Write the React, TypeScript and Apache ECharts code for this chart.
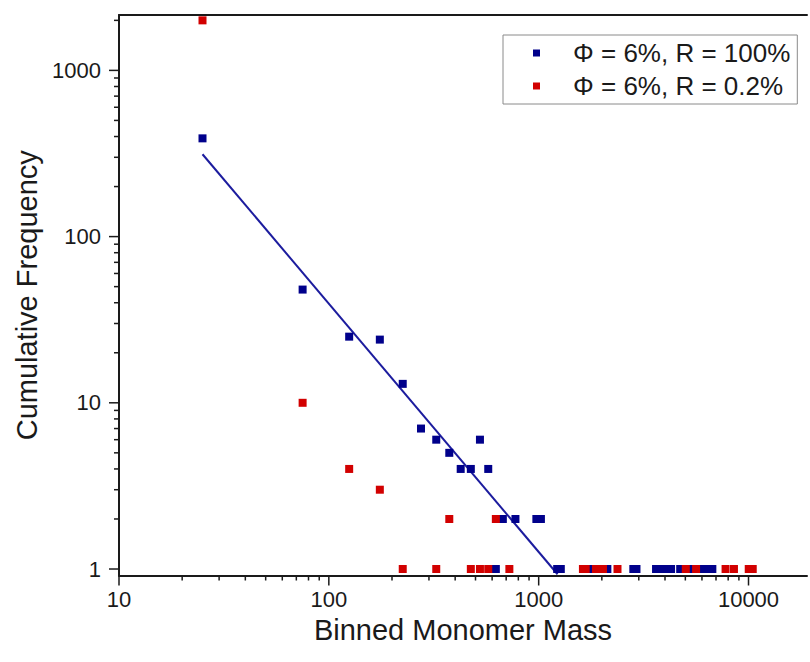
import React, { useEffect, useRef } from "react";
import * as echarts from "echarts";

// ---- data ----
const blueName = "Φ = 6%, R = 100%";
const redName = "Φ = 6%, R = 0.2%";

const blueMass = [25, 75, 125, 175, 225, 275, 325, 375, 425, 475, 525, 575, 625, 675, 775, 975, 1025, 1225, 1275, 1725, 2125, 2825, 2925, 3625, 3775, 3925, 4125, 4275, 4725, 5225, 6125, 6425, 6725];
const blueFreq = [390, 48, 25, 24, 13, 7, 6, 5, 4, 4, 6, 4, 1, 2, 2, 2, 2, 1, 1, 1, 1, 1, 1, 1, 1, 1, 1, 1, 1, 1, 1, 1, 1];

const redMass = [25, 75, 125, 175, 225, 325, 375, 475, 525, 575, 625, 725, 1625, 1675, 1875, 2025, 2375, 5025, 5625, 7775, 8525, 10025, 10475];
const redFreq = [2000, 10, 4, 3, 1, 1, 2, 1, 1, 1, 2, 1, 1, 1, 1, 1, 1, 1, 1, 1, 1, 1, 1];

// power-law fit line end points
const fitMass = [25, 1230];
const fitFreq = [313, 0.93];

// axis extents and tick values
const X_MIN = 10;
const X_MAX = 19000;
const Y_MIN = 0.914;
const Y_MAX = 2154;
const xMajorTicks = [10, 100, 1000, 10000];
const xMinorTicks = [20, 30, 40, 50, 60, 70, 80, 90, 200, 300, 400, 500, 600, 700, 800, 900, 2000, 3000, 4000, 5000, 6000, 7000, 8000, 9000];
const yMajorTicks = [1, 10, 100, 1000];
const yMinorTicks = [2, 3, 4, 5, 6, 7, 8, 9, 20, 30, 40, 50, 60, 70, 80, 90, 200, 300, 400, 500, 600, 700, 800, 900, 2000];

const FONT = "'Liberation Sans', Arial, sans-serif";
const INK = "#1a1a1a";
const BLUE = "#00008b";
const RED = "#d20000";

function pairs(xs: number[], ys: number[]) {
  return xs.map((x, i) => [x, ys[i]]);
}

function logLabel(v: number) {
  const l = Math.log10(v);
  return Math.abs(l - Math.round(l)) < 1e-6 ? String(Math.round(v)) : "";
}

function xTickSeries(values: number[], len: number) {
  return {
    type: "custom",
    silent: true,
    clip: false,
    z: 5,
    data: values.map((v) => [v, 1]),
    renderItem: (params: any, api: any) => {
      const cs = params.coordSys;
      const p = api.coord([api.value(0), 1]);
      const bottom = cs.y + cs.height;
      return {
        type: "line",
        shape: { x1: p[0], y1: bottom, x2: p[0], y2: bottom + len },
        style: { stroke: INK, lineWidth: 1.5 },
      };
    },
  };
}

function yTickSeries(values: number[], len: number) {
  return {
    type: "custom",
    silent: true,
    clip: false,
    z: 5,
    data: values.map((v) => [100, v]),
    renderItem: (params: any, api: any) => {
      const cs = params.coordSys;
      const p = api.coord([100, api.value(1)]);
      const left = cs.x;
      return {
        type: "line",
        shape: { x1: left, y1: p[1], x2: left - len, y2: p[1] },
        style: { stroke: INK, lineWidth: 1.5 },
      };
    },
  };
}

export default function App() {
  const ref = useRef<HTMLDivElement>(null);

  useEffect(() => {
    if (!ref.current) return;
    const chart = echarts.init(ref.current, undefined, { renderer: "svg" });
    chart.setOption({
      animation: false,
      backgroundColor: "#ffffff",
      textStyle: { fontFamily: FONT },
      grid: { left: 119, top: 15, right: 0, bottom: 86.5, containLabel: false },
      legend: {
        data: [blueName, redName],
        orient: "vertical",
        left: 503,
        top: 35,
        padding: [5, 7, 5, 30],
        itemGap: 7,
        itemWidth: 7,
        itemHeight: 7,
        icon: "rect",
        borderColor: "#8a8a8a",
        borderWidth: 1,
        backgroundColor: "#ffffff",
        textStyle: { fontSize: 26, color: INK, fontFamily: FONT, padding: [0, 0, 0, 28] },
      },
      xAxis: [
        {
          type: "log",
          min: X_MIN,
          max: X_MAX,
          position: "bottom",
          name: "Binned Monomer Mass",
          nameLocation: "middle",
          nameGap: 35,
          nameTextStyle: { fontSize: 29, color: INK, fontFamily: FONT },
          axisLine: { show: true, onZero: false, lineStyle: { color: INK, width: 2 } },
          axisTick: { show: false },
          splitLine: { show: false },
          axisLabel: { fontSize: 22, color: INK, margin: 13, fontFamily: FONT, formatter: logLabel },
        },
        {
          type: "log",
          min: X_MIN,
          max: X_MAX,
          position: "top",
          axisLine: { show: true, onZero: false, lineStyle: { color: INK, width: 2 } },
          axisTick: { show: false },
          axisLabel: { show: false },
          splitLine: { show: false },
        },
      ],
      yAxis: {
        type: "log",
        min: Y_MIN,
        max: Y_MAX,
        name: "Cumulative Frequency",
        nameLocation: "middle",
        nameGap: 72,
        nameTextStyle: { fontSize: 29, color: INK, fontFamily: FONT },
        axisLine: { show: true, onZero: false, lineStyle: { color: INK, width: 2 } },
        axisTick: { show: false },
        splitLine: { show: false },
        axisLabel: { fontSize: 22, color: INK, margin: 18, fontFamily: FONT, formatter: logLabel },
      },
      series: [
        {
          name: "fit",
          type: "line",
          data: pairs(fitMass, fitFreq),
          showSymbol: false,
          symbol: "none",
          silent: true,
          lineStyle: { color: "#1c1c9e", width: 2 },
          z: 2,
        },
        {
          name: blueName,
          type: "scatter",
          data: pairs(blueMass, blueFreq),
          symbol: "rect",
          symbolSize: 8,
          itemStyle: { color: BLUE, opacity: 1 },
          z: 3,
        },
        {
          name: redName,
          type: "scatter",
          data: pairs(redMass, redFreq),
          symbol: "rect",
          symbolSize: 8,
          itemStyle: { color: RED, opacity: 1 },
          z: 4,
        },
        xTickSeries(xMajorTicks, 10),
        xTickSeries(xMinorTicks, 5),
        yTickSeries(yMajorTicks, 10),
        yTickSeries(yMinorTicks, 5),
      ],
    });
    return () => chart.dispose();
  }, []);

  return (
    <div
      ref={ref}
      style={{ position: "absolute", left: 0, top: 0, width: 810, height: 662, background: "#fff" }}
    />
  );
}
